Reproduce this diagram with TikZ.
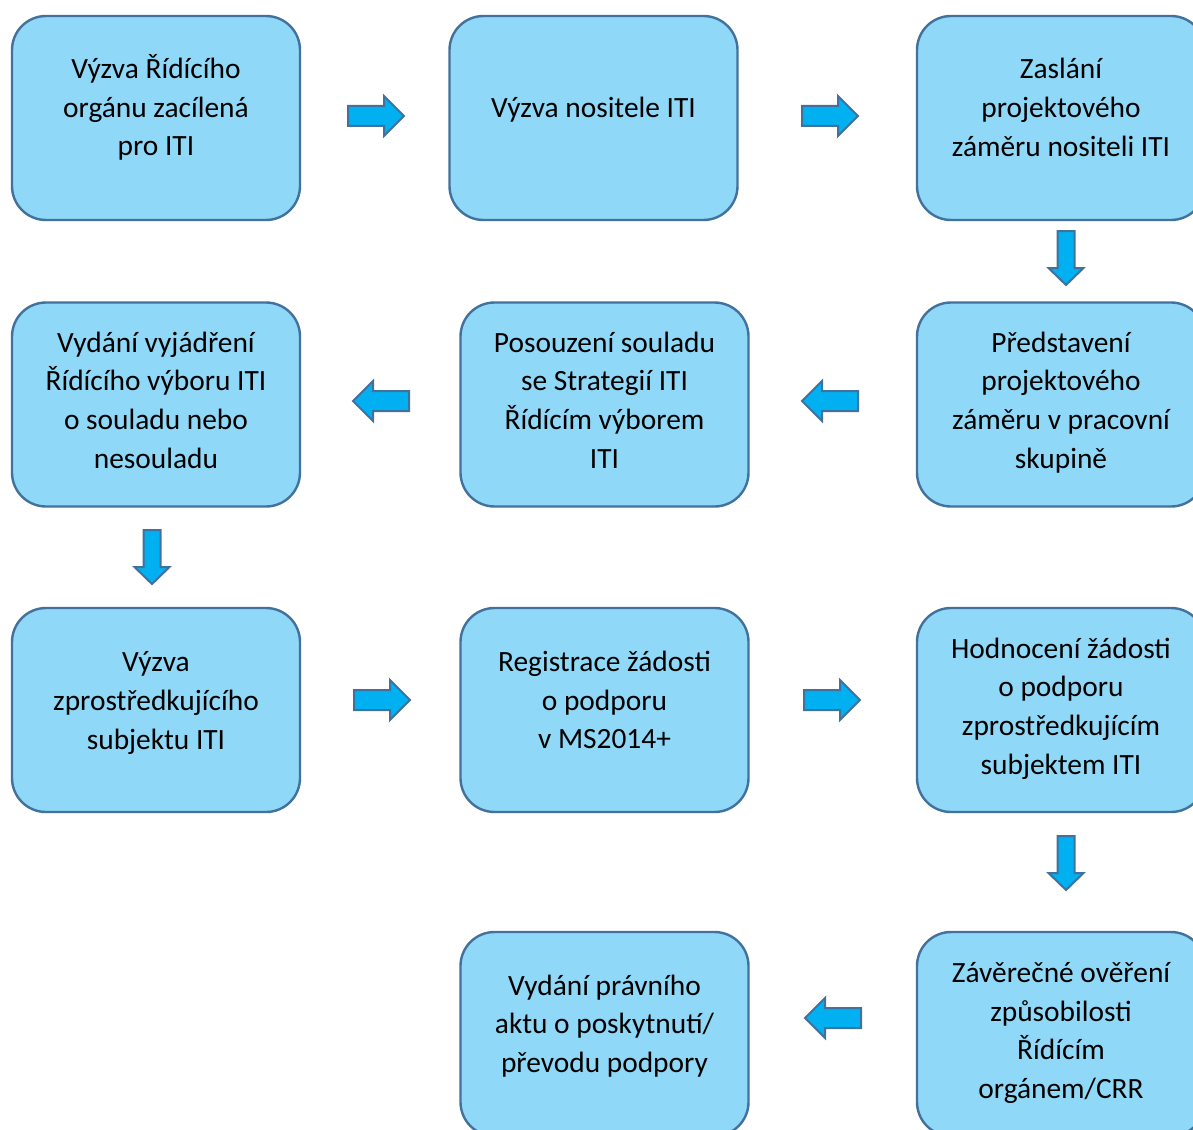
\documentclass[tikz,border=0pt]{standalone}
\usepackage{fontspec}
\setmainfont{Carlito}
\usetikzlibrary{calc}
\definecolor{boxfill}{HTML}{8FD8F7}
\definecolor{boxline}{HTML}{41719C}
\definecolor{arrfill}{HTML}{00B0F0}
\begin{document}
\begin{tikzpicture}[x=0.5pt,y=-0.5pt,
  stepbox/.style={draw=boxline,fill=boxfill,line width=1.2pt,rounded corners=17pt,
    minimum width=144pt,minimum height=102pt,inner sep=0pt},
  txt/.style={align=center,font=\fontsize{14.7}{19.35}\selectfont,inner sep=0pt,text=black},
  barrow/.style={draw=boxline,fill=arrfill,line width=1pt,line join=miter}]
\newcommand{\harrow}[2]{% center, rotation
  \draw[barrow,shift={(#1)},rotate=#2] (-28,-10) -- (8,-10) -- (8,-20) -- (28,0) -- (8,20) -- (8,10) -- (-28,10) -- cycle;}
\newcommand{\varrow}[1]{%
  \draw[barrow,shift={(#1)}] (-8.5,-27) -- (8.5,-27) -- (8.5,10) -- (17.5,10) -- (0,27) -- (-17.5,10) -- (-8.5,10) -- cycle;}
\useasboundingbox (0,0) rectangle (1193,1129);
% boxes
\node[stepbox] (b1) at (156,118) {};
\node[stepbox] (b2) at (593.5,118) {};
\node[stepbox] (b3) at (1061,118) {};
\node[stepbox] (b4) at (156,404.5) {};
\node[stepbox] (b5) at (604.5,404.5) {};
\node[stepbox] (b6) at (1061,404.5) {};
\node[stepbox] (b7) at (156,710) {};
\node[stepbox] (b8) at (604.5,710) {};
\node[stepbox] (b9) at (1061,710) {};
\node[stepbox] (b10) at (604.5,1034) {};
\node[stepbox] (b11) at (1061,1034) {};
% texts
\node[txt] (t1) at (156,107.5) {Výzva Řídícího\\orgánu zacílená\\pro ITI};
\node[txt] (t2) at (593.5,110) {Výzva nositele ITI};
\node[txt] (t3) at (1061,107.5) {Zaslání\\projektového\\záměru nositeli ITI};
\node[txt] (t4) at (156,400) {Vydání vyjádření\\Řídícího výboru ITI\\o souladu nebo\\nesouladu};
\node[txt] (t5) at (604.5,400) {Posouzení souladu\\se Strategií ITI\\Řídícím výborem\\ITI};
\node[txt] (t6) at (1061,402.5) {Představení\\projektového\\záměru v pracovní\\skupině};
\node[txt] (t7) at (156,703) {Výzva\\zprostředkujícího\\subjektu ITI};
\node[txt] (t8) at (604.5,700) {Registrace žádosti\\o podporu\\v MS2014+};
\node[txt] (t9) at (1061,708.5) {Hodnocení žádosti\\o podporu\\zprostředkujícím\\subjektem ITI};
\node[txt] (t10) at (604.5,1026) {Vydání právního\\aktu o poskytnutí/\\převodu podpory};
\node[txt] (t11) at (1061,1033) {Závěrečné ověření\\způsobilosti\\Řídícím\\orgánem/CRR};
% arrow anchor points
\coordinate (a1) at (376,116);
\coordinate (a2) at (830,116);
\coordinate (a3) at (1066,258);
\coordinate (a4) at (381,401);
\coordinate (a5) at (830,401);
\coordinate (a6) at (152,557);
\coordinate (a7) at (382,700);
\coordinate (a8) at (832,700);
\coordinate (a9) at (1066,863);
\coordinate (a10) at (833,1018);
\harrow{a1}{0}
\harrow{a2}{0}
\varrow{a3}
\harrow{a4}{180}
\harrow{a5}{180}
\varrow{a6}
\harrow{a7}{0}
\harrow{a8}{0}
\varrow{a9}
\harrow{a10}{180}
\end{tikzpicture}
\end{document}
